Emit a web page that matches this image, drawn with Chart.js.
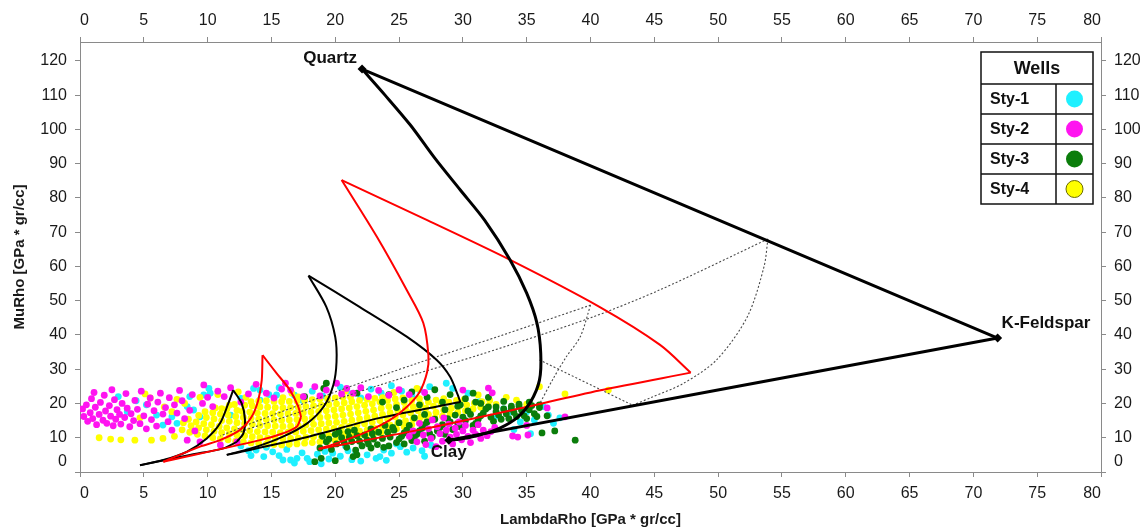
<!DOCTYPE html>
<html>
<head>
<meta charset="utf-8">
<title>LMR template</title>
<script src="https://cdn.jsdelivr.net/npm/chart.js@4.4.1/dist/chart.umd.min.js"></script>
<style>
  html, body { margin: 0; padding: 0; background: #ffffff; }
</style>
</head>
<body>
<canvas id="lmrChart" width="1146" height="527"></canvas>
<script>
/* ---------- Axis ticks ---------- */
const lambdaTicks = [0, 5, 10, 15, 20, 25, 30, 35, 40, 45, 50, 55, 60, 65, 70, 75, 80];
const muTicks = [0, 10, 20, 30, 40, 50, 60, 70, 80, 90, 100, 110, 120];

/* ---------- Wells ---------- */
const wellNames = ["Sty-1", "Sty-2", "Sty-3", "Sty-4"];
const wellColors = ["#1ff0ff", "#ff14f0", "#0b7d0b", "#ffff00"];

const sty1 = [
  [3.0, 22.0], [3.7, 17.6], [4.4, 20.8], [5.2, 19.6], [6.0, 16.6], [6.5, 13.7], [7.2, 16.1], [7.6, 14.2],
  [8.4, 19.1], [8.6, 22.0], [8.9, 18.1], [9.4, 16.1], [9.7, 22.5], [10.1, 24.4], [10.2, 23.0], [11.8, 16.6],
  [12.6, 21.5], [13.6, 24.4], [14.1, 21.0], [14.1, 23.9], [14.8, 22.6], [15.4, 22.5], [15.6, 24.6],
  [16.8, 22.4], [17.4, 21.0], [18.2, 23.6], [19.0, 22.2], [20.4, 24.8], [21.2, 22.8], [22.0, 21.6],
  [22.8, 24.2], [23.6, 23.0], [24.4, 25.2], [25.2, 23.6], [26.0, 22.4], [26.6, 24.0], [27.4, 24.9],
  [28.7, 25.9], [29.2, 24.4], [30.4, 23.0], [31.3, 20.5], [32.5, 16.1], [33.2, 18.4], [33.7, 17.5],
  [34.5, 14.6], [35.0, 17.6], [35.6, 15.2], [36.3, 19.1], [36.7, 16.6], [37.1, 14.2], [37.6, 15.8],
  [34.0, 12.4], [35.3, 11.2],
  [12.6, 7.6], [13.2, 6.2], [13.8, 6.4], [14.4, 4.5], [14.6, 7.2], [15.1, 5.9], [15.6, 4.8], [15.9, 3.5],
  [16.2, 6.6], [16.5, 3.5], [17.0, 4.0], [17.4, 5.6], [17.8, 4.0], [18.0, 3.0], [18.6, 5.2], [19.2, 6.0],
  [19.5, 3.8], [19.8, 5.5], [20.4, 4.6], [20.8, 7.6], [21.0, 6.2], [21.6, 5.4], [22.0, 3.2], [22.5, 5.0],
  [23.2, 4.0], [23.5, 4.5], [23.8, 6.4], [24.4, 5.5], [24.8, 8.2], [25.1, 7.4], [25.6, 5.8], [26.1, 7.0],
  [26.8, 6.2], [27.0, 4.6], [27.5, 7.8], [13.4, 4.8], [16.8, 2.6], [18.9, 2.4], [21.3, 3.6], [24.0, 3.4]
];

const sty2 = [
  [0.2, 18.4], [0.3, 16.2], [0.5, 19.6], [0.6, 14.8], [0.8, 17.3], [0.9, 21.4], [1.0, 15.6], [1.1, 23.2],
  [1.2, 18.9], [1.3, 13.8], [1.5, 16.8], [1.6, 20.3], [1.8, 15.1], [1.9, 22.4], [2.0, 17.8], [2.1, 14.2],
  [2.3, 19.4], [2.4, 16.3], [2.5, 24.0], [2.6, 13.5], [2.7, 21.1], [2.8, 15.4], [2.9, 18.2], [3.1, 16.8],
  [3.2, 14.0], [3.3, 20.0], [3.5, 15.9], [3.6, 22.9], [3.7, 18.6], [3.9, 13.2], [4.0, 17.0], [4.2, 15.0],
  [4.3, 20.9], [4.5, 18.3], [4.7, 14.1], [4.8, 23.6], [5.0, 16.4], [5.2, 12.6], [5.3, 19.8], [5.5, 21.6],
  [5.6, 15.3], [5.8, 17.9], [6.0, 13.4], [6.1, 20.4], [6.3, 23.0], [6.5, 16.9], [6.7, 18.8], [6.9, 14.7],
  [7.0, 21.7], [7.2, 12.2], [7.4, 19.6], [7.6, 17.2], [7.8, 23.8], [8.0, 20.8], [8.2, 15.6], [8.4, 9.3],
  [8.6, 18.0], [8.8, 22.6], [9.0, 12.0], [9.4, 8.8], [9.6, 20.0], [9.7, 25.4], [10.0, 21.8], [10.4, 19.1],
  [10.8, 23.6], [11.0, 7.9], [11.3, 22.0], [11.8, 24.6], [12.3, 8.8], [12.6, 20.4], [13.2, 22.8],
  [13.8, 25.6], [14.6, 23.0], [15.2, 21.6], [15.8, 24.2], [16.1, 25.9], [16.5, 23.9], [17.2, 25.4],
  [17.5, 22.0], [18.4, 24.9], [18.8, 22.2], [19.3, 23.9], [20.1, 25.9], [20.5, 22.8], [20.9, 24.4],
  [21.4, 23.0], [22.0, 24.6], [22.6, 22.0], [23.4, 23.8], [24.2, 22.4], [25.0, 24.0], [25.8, 22.6],
  [27.0, 23.2],
  [25.8, 10.4], [26.1, 12.0], [26.4, 8.8], [26.6, 14.2], [26.9, 10.8], [27.1, 8.0], [27.3, 12.6],
  [27.5, 9.8], [27.6, 15.2], [27.9, 7.4], [28.0, 13.2], [28.2, 11.2], [28.4, 9.0], [28.5, 15.8],
  [28.7, 12.2], [28.9, 14.0], [29.0, 10.2], [29.2, 8.2], [29.4, 12.8], [29.5, 11.0], [29.7, 14.6],
  [29.9, 9.4], [30.0, 12.0], [30.2, 13.6], [30.4, 10.4], [30.6, 8.6], [30.8, 12.2], [31.0, 11.0],
  [31.2, 13.8], [31.4, 9.8], [31.6, 12.2], [31.9, 10.6], [32.2, 11.8], [32.5, 13.0],
  [30.0, 23.9], [32.0, 24.5], [32.3, 23.1], [33.9, 10.5], [34.3, 10.2], [35.1, 10.8], [36.6, 18.7],
  [38.0, 16.1], [35.0, 13.6]
];

const sty3 = [
  [18.8, 7.0], [19.0, 10.4], [19.3, 8.8], [19.7, 6.6], [20.1, 8.2], [20.3, 11.6], [20.5, 10.0], [20.9, 7.2],
  [21.0, 11.8], [21.3, 8.9], [21.7, 10.6], [22.1, 7.6], [22.5, 9.3], [22.8, 12.6], [22.9, 11.2], [23.3, 8.0],
  [23.7, 9.8], [23.8, 7.2], [24.1, 11.6], [24.5, 13.0], [24.8, 8.6], [25.0, 14.4], [25.2, 10.4], [25.6, 12.2],
  [26.0, 9.2], [26.2, 15.8], [26.4, 11.0], [26.8, 12.8], [27.0, 16.8], [27.2, 14.6], [27.6, 10.2],
  [28.0, 12.0], [28.4, 13.8], [28.6, 18.2], [28.8, 15.6], [29.2, 12.4], [29.6, 14.2], [29.8, 19.6],
  [30.0, 16.0], [30.4, 17.8], [30.8, 13.6], [31.0, 20.4], [31.2, 15.4], [31.6, 17.2], [32.0, 19.0],
  [32.4, 14.8], [32.8, 16.6], [33.2, 18.4], [33.6, 15.6], [34.0, 17.4], [34.4, 19.2], [34.8, 16.4],
  [35.2, 18.2], [35.6, 17.0], [36.0, 18.8], [36.6, 16.4],
  [19.5, 9.6], [20.0, 11.0], [20.7, 8.6], [21.1, 10.2], [21.5, 12.2], [21.9, 9.0], [22.3, 10.8], [22.6, 8.2],
  [23.0, 9.6], [23.4, 11.6], [23.9, 13.6], [24.3, 10.2], [24.6, 12.2], [25.0, 9.6], [25.4, 11.4],
  [25.8, 13.6], [26.2, 10.2], [26.6, 12.0], [27.0, 13.8], [27.4, 11.2], [27.8, 15.4], [28.2, 13.0],
  [28.6, 11.0], [29.0, 14.6], [29.4, 16.6], [29.8, 13.2], [30.2, 15.0], [30.6, 16.8], [31.0, 14.2],
  [31.4, 16.4], [31.8, 18.4], [32.2, 16.0], [32.6, 17.6], [33.0, 15.4], [33.4, 17.0], [33.8, 19.2],
  [34.2, 16.2], [34.6, 18.0], [35.0, 15.6], [35.4, 19.4], [35.8, 16.2], [21.6, 6.4], [22.8, 7.0],
  [24.2, 7.6], [25.4, 8.2], [27.0, 9.0],
  [23.7, 20.4], [24.2, 22.6], [24.8, 18.8], [25.4, 21.0], [26.0, 23.4], [26.6, 19.6], [27.2, 21.8],
  [27.8, 24.0], [28.4, 20.4], [29.0, 22.6], [29.6, 19.2], [30.2, 21.4], [30.8, 23.0], [31.4, 20.0],
  [32.0, 21.8], [32.6, 19.0], [33.2, 20.6], [33.8, 18.4], [34.4, 19.8], [35.2, 20.4], [36.0, 19.6],
  [18.4, 3.0], [18.9, 4.0], [20.0, 3.3], [21.4, 4.5], [21.7, 5.0], [19.3, 25.9], [19.1, 24.4],
  [21.7, 23.0], [17.6, 22.0], [38.8, 9.3], [37.2, 12.0], [36.2, 11.4]
];

const sty4 = [
  [1.5, 10.0], [2.4, 9.6], [3.2, 9.4], [4.3, 9.3], [5.6, 9.3], [6.5, 9.8], [7.4, 10.4], [5.1, 22.8],
  [5.5, 21.6], [4.7, 15.8], [6.6, 19.0], [7.2, 17.6], [7.6, 21.2], [8.2, 20.0], [9.4, 21.8], [10.8, 22.6],
  [12.4, 23.4], [13.0, 21.8], [16.6, 23.0], [20.8, 23.6], [24.6, 23.2], [26.4, 24.4], [31.2, 22.5],
  [33.4, 21.8], [36.0, 24.9], [38.0, 22.8], [41.4, 23.9], [35.0, 19.8], [34.2, 21.0],
  [8.0, 12.3], [8.1, 14.4], [8.6, 11.6], [8.7, 13.5], [8.5, 15.4],
  [9.2, 11.0], [9.3, 12.9], [9.1, 14.6], [9.3, 16.5],
  [9.8, 10.5], [9.9, 12.3], [9.7, 14.1], [9.9, 15.9], [9.8, 17.6],
  [10.4, 10.0], [10.5, 11.9], [10.3, 13.8], [10.5, 15.5], [10.4, 17.3], [10.6, 18.7],
  [11.0, 9.7], [11.1, 11.5], [10.9, 13.3], [11.1, 15.0], [11.0, 16.9], [11.1, 18.5],
  [11.6, 9.4], [11.7, 11.2], [11.5, 12.9], [11.7, 14.8], [11.6, 16.6], [11.5, 18.3], [11.7, 19.5],
  [12.2, 9.0], [12.3, 10.8], [12.1, 12.6], [12.3, 14.4], [12.2, 16.2], [12.3, 18.0], [12.1, 19.7],
  [12.8, 8.8], [12.9, 10.6], [12.7, 12.3], [12.9, 14.1], [12.8, 15.9], [12.7, 17.7], [12.9, 19.5],
  [13.4, 8.5], [13.5, 10.3], [13.3, 12.1], [13.5, 13.9], [13.4, 15.7], [13.3, 17.5], [13.5, 19.3], [13.4, 20.5],
  [14.0, 8.3], [14.1, 10.0], [13.9, 11.8], [14.1, 13.6], [14.0, 15.4], [13.9, 17.2], [14.1, 19.0], [14.0, 20.7],
  [14.6, 8.1], [14.7, 9.9], [14.5, 11.7], [14.7, 13.5], [14.6, 15.3], [14.5, 17.1], [14.7, 18.9], [14.6, 20.8],
  [15.2, 8.0], [15.3, 9.8], [15.1, 11.6], [15.3, 13.4], [15.2, 15.2], [15.1, 17.0], [15.3, 18.8], [15.2, 20.6],
  [15.8, 7.9], [15.9, 9.7], [15.7, 11.5], [15.9, 13.3], [15.8, 15.1], [15.7, 16.9], [15.9, 18.7], [15.8, 20.5], [15.9, 21.7],
  [16.4, 8.1], [16.5, 9.8], [16.3, 11.6], [16.5, 13.4], [16.4, 15.2], [16.3, 17.0], [16.5, 18.8], [16.4, 20.6],
  [17.0, 8.2], [17.1, 9.9], [16.9, 11.7], [17.1, 13.5], [17.0, 15.3], [16.9, 17.1], [17.1, 18.9], [17.0, 20.7], [17.1, 21.9],
  [17.6, 8.4], [17.7, 10.1], [17.5, 11.9], [17.7, 13.7], [17.6, 15.5], [17.5, 17.3], [17.7, 19.1], [17.6, 20.9],
  [18.2, 8.6], [18.3, 10.3], [18.1, 12.1], [18.3, 13.9], [18.2, 15.7], [18.1, 17.5], [18.3, 19.3], [18.2, 21.1],
  [18.8, 8.8], [18.9, 10.5], [18.7, 12.3], [18.9, 14.1], [18.8, 15.9], [18.7, 17.7], [18.9, 19.5], [18.8, 21.3],
  [19.4, 9.0], [19.5, 10.7], [19.3, 12.5], [19.5, 14.3], [19.4, 16.1], [19.3, 17.9], [19.5, 19.7], [19.4, 21.4],
  [20.0, 9.2], [20.1, 10.9], [19.9, 12.7], [20.1, 14.5], [20.0, 16.3], [19.9, 18.1], [20.1, 19.9], [20.0, 21.6],
  [20.6, 9.5], [20.7, 11.2], [20.5, 13.0], [20.7, 14.8], [20.6, 16.6], [20.5, 18.4], [20.7, 20.2], [20.6, 21.8],
  [21.2, 9.8], [21.3, 11.5], [21.1, 13.3], [21.3, 15.1], [21.2, 16.9], [21.1, 18.7], [21.3, 20.5], [21.2, 21.9],
  [21.8, 10.2], [21.9, 11.9], [21.7, 13.7], [21.9, 15.5], [21.8, 17.3], [21.7, 19.1], [21.9, 20.9],
  [22.4, 10.6], [22.5, 12.3], [22.3, 14.1], [22.5, 15.9], [22.4, 17.7], [22.3, 19.5], [22.5, 21.2],
  [23.0, 11.0], [23.1, 12.7], [22.9, 14.5], [23.1, 16.3], [23.0, 18.1], [22.9, 19.9], [23.1, 21.5],
  [23.6, 11.5], [23.7, 13.2], [23.5, 15.0], [23.7, 16.8], [23.6, 18.6], [23.5, 20.4], [23.7, 21.7],
  [24.2, 12.0], [24.3, 13.7], [24.1, 15.5], [24.3, 17.3], [24.2, 19.1], [24.1, 20.9],
  [24.8, 12.6], [24.9, 14.3], [24.7, 16.1], [24.9, 17.9], [24.8, 19.7], [24.7, 21.3],
  [25.4, 13.2], [25.5, 14.9], [25.3, 16.7], [25.5, 18.5], [25.4, 20.3], [25.3, 21.6],
  [26.0, 13.8], [26.1, 15.5], [25.9, 17.3], [26.1, 19.1], [26.0, 20.9],
  [26.6, 14.4], [26.7, 16.1], [26.5, 17.9], [26.7, 19.7], [26.6, 21.4],
  [27.2, 15.1], [27.3, 16.8], [27.1, 18.6], [27.3, 20.4],
  [27.8, 15.7], [27.9, 17.4], [27.7, 19.2], [27.9, 21.0],
  [28.4, 16.3], [28.5, 18.0], [28.3, 19.8], [28.5, 21.4],
  [29.0, 16.9], [29.1, 18.6], [28.9, 20.4],
  [29.6, 17.4], [29.7, 19.1], [29.5, 20.9],
  [30.2, 17.9], [30.3, 19.6], [30.1, 21.2],
  [30.8, 18.4], [30.9, 20.1], [31.4, 18.9], [31.5, 20.5], [32.0, 19.3], [32.1, 20.9], [32.6, 19.7]
];

/* ---------- Mineral end members ---------- */
const mineralNames = ["Quartz", "K-Feldspar", "Clay"];
const mineralLambda = [22.1, 71.9, 28.9];
const mineralMu = [117.6, 39.1, 9.3];

/* ---------- Mixing triangles (one per porosity step) ---------- */
// zero porosity: quartz-clay, quartz-feldspar, feldspar-clay
const qcEdge0 = [[22.1, 117.6], [23.9, 110.0], [25.9, 101.2], [27.8, 91.6], [29.8, 82.3], [31.7, 73.5],
  [33.7, 61.9], [35.0, 52.2], [35.8, 43.5], [36.1, 34.7], [36.0, 26.8], [35.3, 20.4], [34.3, 16.0],
  [32.9, 12.8], [31.3, 10.8], [29.8, 9.6], [28.9, 9.3]];
const qfEdge0 = [[22.1, 117.6], [71.9, 39.1]];
const fcEdge0 = [[71.9, 39.1], [28.9, 9.3]];

const qcEdge1 = [[20.5, 85.2], [23.25, 68.7], [25.6, 53.1], [26.9, 43.5], [27.3, 34.1], [27.2, 29.2],
  [26.6, 23.3], [25.6, 19.0], [24.3, 15.2], [22.5, 11.8], [20.4, 8.8], [18.7, 6.7]];
const qfEdge1 = [[20.5, 85.2], [27.2, 73.5], [33.7, 61.9], [40.7, 48.2], [45.45, 37.1], [47.85, 29.0]];
const fcEdge1 = [[47.85, 29.0], [40.7, 23.8], [33.9, 18.1], [26.6, 12.3], [18.7, 6.7]];

const qcEdge2 = [[17.9, 57.3], [19.3, 48.2], [20.0, 39.4], [20.1, 32.1], [19.85, 25.4], [19.1, 19.1],
  [17.8, 14.2], [15.9, 10.3], [13.85, 7.4], [11.5, 5.0]];
const qfEdge2 = [[17.9, 57.3], [21.9, 48.2], [25.6, 39.5], [27.95, 32.7], [29.0, 27.8], [29.6, 22.5], [29.8, 20.4]];
const fcEdge2 = [[29.8, 20.4], [23.5, 15.8], [17.24, 9.7], [11.5, 5.0]];

const qcEdge3 = [[14.3, 34.1], [14.24, 26.8], [13.97, 21.0], [13.45, 16.1], [12.54, 12.3], [10.97, 9.3],
  [9.4, 7.4], [6.53, 3.0]];
const qfEdge3 = [[14.3, 34.1], [15.41, 28.8], [16.45, 23.9], [17.1, 19.1], [17.32, 16.0]];
const fcEdge3 = [[17.32, 16.0], [16.98, 13.2], [15.93, 11.3], [14.1, 9.3], [6.53, 3.0]];

const qcEdge4 = [[12.0, 23.9], [11.62, 20.0], [10.97, 14.2], [9.93, 9.8], [8.36, 5.9], [6.53, 3.5], [4.7, 2.0]];
const qfEdge4 = [[12.0, 23.9], [12.67, 20.0], [12.93, 15.2], [12.8, 11.3], [12.28, 8.8]];
const fcEdge4 = [[12.28, 8.8], [11.23, 6.9], [8.62, 5.0], [4.7, 2.0]];

/* ---------- Constant composition guides ---------- */
const trendOuter = [[53.9, 68.0], [45.4, 53.1], [40.0, 45.0], [31.3, 34.2], [23.5, 25.4], [17.2, 17.5], [12.5, 11.7]];
const trendInner = [[40.0, 48.7], [32.9, 39.7], [26.4, 31.7], [20.4, 23.9], [14.1, 15.2], [11.0, 10.5]];
const feldsparArc0 = [[53.9, 68.0], [53.6, 60.0], [52.3, 45.4], [49.9, 32.8], [47.3, 25.9], [44.8, 21.8], [43.3, 19.5]];
const feldsparArc1 = [[40.0, 48.7], [39.2, 39.5], [38.1, 33.6], [37.1, 27.4], [36.0, 19.8]];
const clayLine0 = [[36.0, 32.7], [43.3, 19.5]];

/* ---------- Helpers ---------- */
const FONT = "'Liberation Sans', Arial, Helvetica, sans-serif";
const axisGrey = "#8a8a8a";

function edge(data, color, width) {
  return {
    type: "line", data, borderColor: color, borderWidth: width, pointRadius: 0,
    tension: 0.3, fill: false, order: 1,
  };
}
function guide(data) {
  return {
    type: "line", data, borderColor: "#4a4a4a", borderWidth: 1.1, borderDash: [2, 2],
    pointRadius: 0, tension: 0.3, fill: false, order: 2,
  };
}
function well(i, data, order) {
  return {
    label: wellNames[i], data, backgroundColor: wellColors[i], borderWidth: 0,
    pointRadius: 3.4, pointHoverRadius: 3.4, order,
  };
}
function xAxis(position, height) {
  return {
    type: "linear", position, min: 0, max: 80,
    afterBuildTicks: (s) => { s.ticks = lambdaTicks.map((v) => ({ value: v })); },
    afterFit: (s) => { s.height = height; },
    ticks: { font: { family: FONT, size: 16 }, color: "#1a1a1a", align: "inner", padding: 7, maxRotation: 0, autoSkip: false },
    grid: { drawOnChartArea: false, tickLength: 5, tickColor: axisGrey, tickWidth: 1 },
    border: { color: axisGrey, width: 1 },
  };
}
function yAxis(position, width, pad) {
  return {
    type: "linear", position, min: 0, max: 125.5,
    afterBuildTicks: (s) => { s.ticks = muTicks.map((v) => ({ value: v })); },
    afterFit: (s) => { s.width = width; },
    ticks: {
      font: { family: FONT, size: 16 }, color: "#1a1a1a", padding: pad, autoSkip: false,
      callback: (v) => (v === 0 ? "" : v),
    },
    grid: { drawOnChartArea: false, tickLength: 5, tickColor: axisGrey, tickWidth: 1 },
    border: { color: axisGrey, width: 1 },
  };
}

/* ---------- Labels, zero ticks and the wells table ---------- */
const labelOffsets = [[-5, -11, "right"], [4, -15, "left"], [-18, 12, "left"]];

const decorations = {
  id: "decorations",
  afterDatasetsDraw(chart) {
    const { ctx } = chart;
    const x = chart.scales.x, y = chart.scales.y;
    ctx.save();
    ctx.fillStyle = "#111";
    ctx.font = "bold 17px " + FONT;
    ctx.textBaseline = "middle";
    mineralNames.forEach((name, i) => {
      const [dx, dy, align] = labelOffsets[i];
      ctx.textAlign = align;
      ctx.fillText(name, x.getPixelForValue(mineralLambda[i]) + dx, y.getPixelForValue(mineralMu[i]) + dy);
    });
    ctx.restore();
  },
  afterDraw(chart) {
    const { ctx, chartArea } = chart;
    const y = chart.scales.y;
    ctx.save();
    // zero on both MuRho axes sits a little above the corner
    ctx.font = "16px " + FONT;
    ctx.fillStyle = "#1a1a1a";
    ctx.textBaseline = "middle";
    const zy = y.getPixelForValue(0) - 10;
    ctx.textAlign = "right";
    ctx.fillText("0", chartArea.left - 13, zy);
    ctx.textAlign = "left";
    ctx.fillText("0", chartArea.right + 13, zy);

    // wells table
    const right = chartArea.right - 8, left = right - 112, top = chartArea.top + 10;
    const headH = 32, rowH = 30, split = left + 75;
    const bottom = top + headH + rowH * wellNames.length;
    ctx.fillStyle = "#fff";
    ctx.fillRect(left, top, right - left, bottom - top);
    ctx.strokeStyle = "#111";
    ctx.lineWidth = 1.5;
    ctx.strokeRect(left, top, right - left, bottom - top);
    ctx.beginPath();
    for (let i = 0; i < wellNames.length; i++) {
      const ry = top + headH + rowH * i;
      ctx.moveTo(left, ry); ctx.lineTo(right, ry);
    }
    ctx.moveTo(split, top + headH); ctx.lineTo(split, bottom);
    ctx.stroke();
    ctx.fillStyle = "#111";
    ctx.textAlign = "center";
    ctx.font = "bold 18px " + FONT;
    ctx.fillText("Wells", (left + right) / 2, top + headH / 2 + 1);
    ctx.font = "bold 16px " + FONT;
    wellNames.forEach((name, i) => {
      const cy = top + headH + rowH * i + rowH / 2;
      ctx.textAlign = "left";
      ctx.fillStyle = "#111";
      ctx.fillText(name, left + 9, cy + 1);
      ctx.beginPath();
      ctx.arc((split + right) / 2, cy, 8.5, 0, Math.PI * 2);
      ctx.fillStyle = wellColors[i];
      ctx.fill();
      if (i === 3) { ctx.lineWidth = 1; ctx.strokeStyle = "#6b6b00"; ctx.stroke(); }
    });
    ctx.restore();
  },
};

/* ---------- Chart ---------- */
const minerals = mineralLambda.map((v, i) => [v, mineralMu[i]]);

new Chart(document.getElementById("lmrChart"), {
  type: "scatter",
  plugins: [decorations],
  data: {
    datasets: [
      { data: minerals, pointStyle: "rectRot", pointRadius: 4.5, backgroundColor: "#000", borderWidth: 0, order: 0 },
      edge(qfEdge0, "#000", 3), edge(fcEdge0, "#000", 3), edge(qcEdge0, "#000", 3),
      edge(qcEdge1, "#ff0000", 2), edge(qfEdge1, "#ff0000", 2), edge(fcEdge1, "#ff0000", 2),
      edge(qcEdge2, "#000", 2), edge(qfEdge2, "#000", 2), edge(fcEdge2, "#000", 2),
      edge(qcEdge3, "#ff0000", 2), edge(qfEdge3, "#ff0000", 2), edge(fcEdge3, "#ff0000", 2),
      edge(qcEdge4, "#000", 2), edge(qfEdge4, "#000", 2), edge(fcEdge4, "#000", 2),
      guide(trendOuter), guide(trendInner), guide(feldsparArc0), guide(feldsparArc1), guide(clayLine0),
      well(1, sty2, 5), well(2, sty3, 6), well(3, sty4, 7), well(0, sty1, 8),
    ],
  },
  options: {
    responsive: false,
    animation: false,
    events: [],
    layout: { padding: 0 },
    plugins: { legend: { display: false }, tooltip: { enabled: false } },
    scales: {
      x: {
        ...xAxis("bottom", 55),
        title: {
          display: true, text: "LambdaRho [GPa * gr/cc]", color: "#1a1a1a",
          font: { family: FONT, size: 15, weight: "bold", lineHeight: 1 }, padding: { top: 0, bottom: 0 },
        },
      },
      x2: xAxis("top", 42),
      y: {
        ...yAxis("left", 80, 8),
        title: {
          display: true, text: "MuRho [GPa * gr/cc]", color: "#1a1a1a",
          font: { family: FONT, size: 15, weight: "bold", lineHeight: 1 }, padding: { top: 12, bottom: 0 },
        },
      },
      y2: yAxis("right", 45, 8),
    },
  },
});
</script>
</body>
</html>
